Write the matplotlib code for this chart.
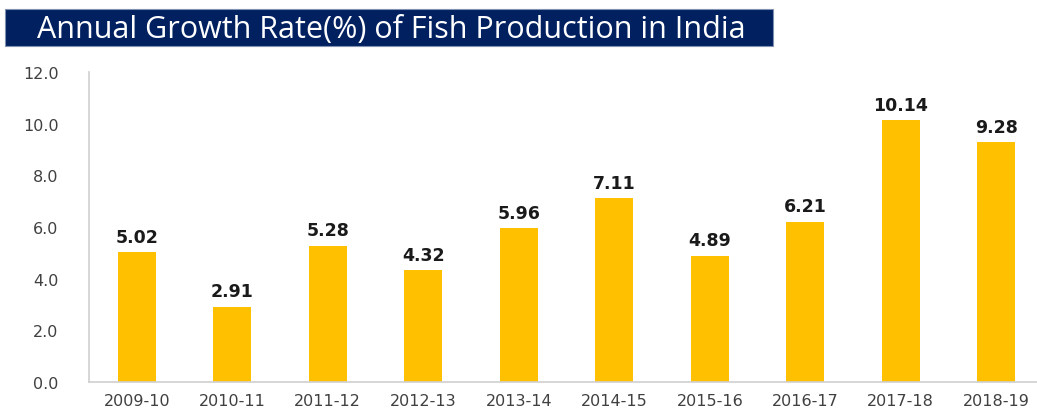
import matplotlib
matplotlib.use("Agg")
from matplotlib import pyplot as plt
from matplotlib.patches import Rectangle

years = ["2009-10", "2010-11", "2011-12", "2012-13", "2013-14",
         "2014-15", "2015-16", "2016-17", "2017-18", "2018-19"]
growth = [5.02, 2.91, 5.28, 4.32, 5.96, 7.11, 4.89, 6.21, 10.14, 9.28]
y_ticks = [0, 2, 4, 6, 8, 10, 12]

W, H = 1037, 414
fig = plt.figure(figsize=(W / 100, H / 100), dpi=100)

# plot area in pixels: left spine at x=89, baseline at y=383, top at y=73
ax = fig.add_axes([89 / W, (H - 383) / H, (W - 89) / W, 310 / H])
x = range(len(years))
ax.bar(x, growth, width=0.40, color="#FFC000")
for xi, v in zip(x, growth):
    ax.text(xi, v + 0.25, f"{v:.2f}", ha="center", va="bottom",
            fontsize=12.5, fontweight="bold", color="#1a1a1a", family="DejaVu Sans")

ax.set_xlim(-0.5, (W - 89) / 95.5 - 0.5)
ax.set_ylim(0, 12)
ax.set_yticks(y_ticks)
ax.set_yticklabels([f"{t:.1f}" for t in y_ticks])
ax.set_xticks(list(x))
ax.set_xticklabels(years)
ax.tick_params(axis="both", length=0, labelsize=11.5, colors="#404040")
ax.tick_params(axis="y", pad=22)
ax.tick_params(axis="x", pad=8)
for side in ["top", "right"]:
    ax.spines[side].set_visible(False)
for side in ["left", "bottom"]:
    ax.spines[side].set_color("#d0d0d0")
    ax.spines[side].set_linewidth(1.2)

# title banner
fig.patches.append(Rectangle((5 / W, (H - 47) / H), 768 / W, 37 / H,
                             transform=fig.transFigure, facecolor="#002060",
                             edgecolor="#8090b0", linewidth=0.8))
fig.text(37 / W, (H - 30) / H, "Annual Growth Rate(%) of Fish Production in India",
         ha="left", va="center", color="white", fontsize=22, family="Open Sans")

fig.savefig("out.png", dpi=100)
